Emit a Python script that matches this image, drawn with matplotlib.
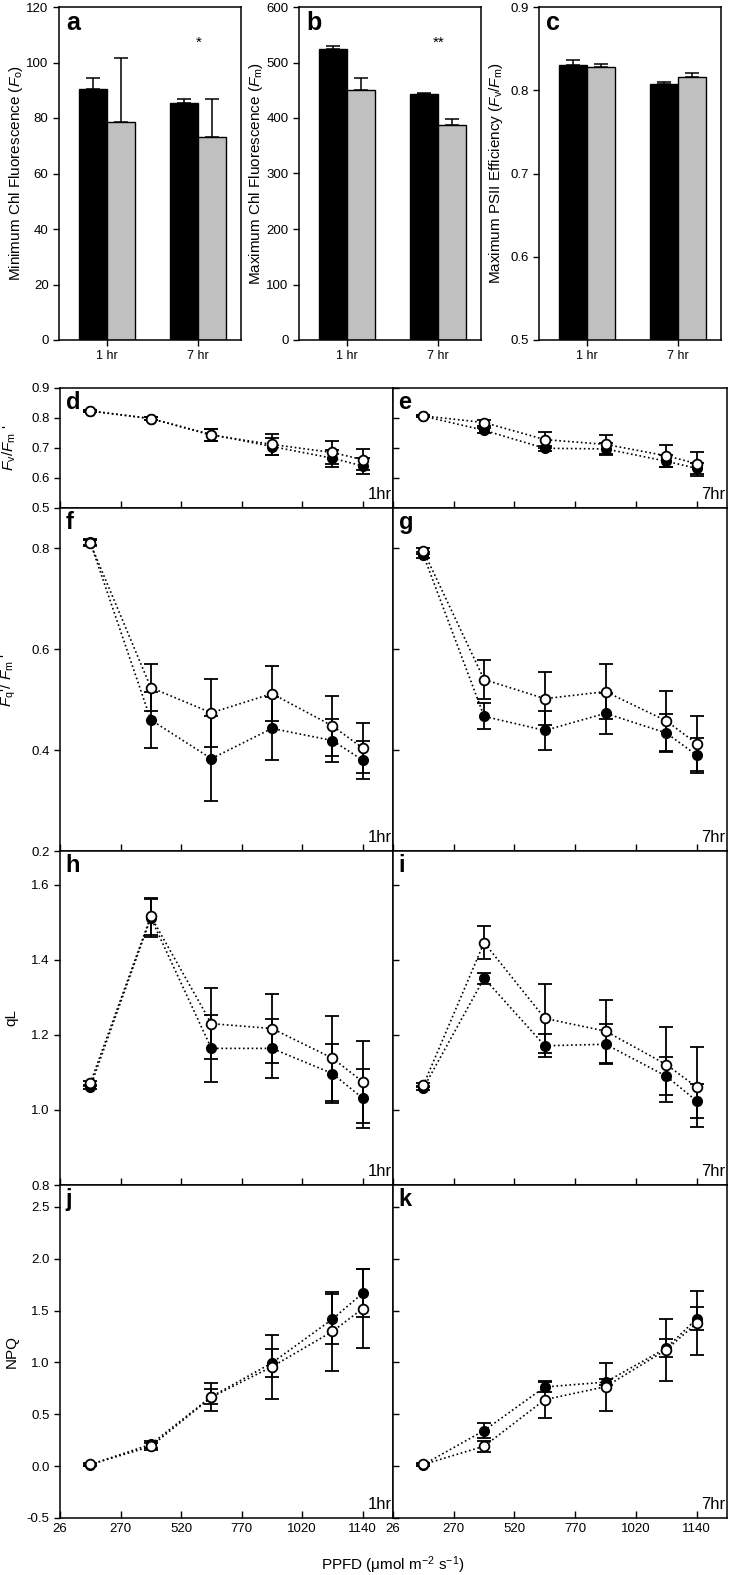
import matplotlib
matplotlib.use("Agg")
import matplotlib.pyplot as plt
import numpy as np

plt.rcParams['font.family'] = ['Liberation Sans', 'DejaVu Sans']
plt.rcParams['mathtext.fontset'] = 'custom'
plt.rcParams['mathtext.rm'] = 'Liberation Sans'
plt.rcParams['mathtext.it'] = 'Liberation Sans:italic'
plt.rcParams['font.size'] = 9
plt.rcParams['axes.linewidth'] = 1.1

# ---- bar panels (a, b, c) ----
temps = ['1 hr', '7 hr']
fo_black = [90.5, 85.5]
fo_black_err = [4.0, 1.2]
fo_gray = [78.5, 73.0]
fo_gray_err = [23.0, 14.0]
fm_black = [524, 443]
fm_black_err = [5, 2]
fm_gray = [450, 388]
fm_gray_err = [22, 10]
fvfm_black = [0.830, 0.807]
fvfm_black_err = [0.006, 0.003]
fvfm_gray = [0.828, 0.816]
fvfm_gray_err = [0.004, 0.005]

# ---- light response panels (d - k) ----
ppfd_labels = ['26', '270', '520', '770', '1020', '1140']
ppfd_pos = [0.5, 1.5, 2.5, 3.5, 4.5, 5.0]

d_filled = [0.823, 0.798, 0.745, 0.705, 0.666, 0.640]
d_filled_err = [0.004, 0.004, 0.02, 0.03, 0.028, 0.028]
d_open = [0.824, 0.798, 0.743, 0.712, 0.685, 0.661]
d_open_err = [0.004, 0.004, 0.02, 0.036, 0.038, 0.036]

e_filled = [0.806, 0.759, 0.699, 0.697, 0.656, 0.632]
e_filled_err = [0.004, 0.008, 0.008, 0.02, 0.02, 0.018]
e_open = [0.807, 0.785, 0.728, 0.712, 0.674, 0.648]
e_open_err = [0.004, 0.01, 0.027, 0.031, 0.036, 0.04]

f_filled = [0.812, 0.460, 0.383, 0.443, 0.419, 0.380]
f_filled_err = [0.006, 0.056, 0.084, 0.063, 0.042, 0.038]
f_open = [0.810, 0.524, 0.474, 0.512, 0.448, 0.404]
f_open_err = [0.006, 0.047, 0.067, 0.055, 0.059, 0.05]

g_filled = [0.787, 0.467, 0.439, 0.473, 0.434, 0.390]
g_filled_err = [0.006, 0.026, 0.039, 0.041, 0.037, 0.035]
g_open = [0.795, 0.540, 0.502, 0.516, 0.458, 0.413]
g_open_err = [0.006, 0.038, 0.053, 0.055, 0.06, 0.055]

h_filled = [1.061, 1.512, 1.164, 1.164, 1.097, 1.031]
h_filled_err = [0.005, 0.05, 0.089, 0.078, 0.079, 0.078]
h_open = [1.071, 1.516, 1.230, 1.217, 1.138, 1.075]
h_open_err = [0.006, 0.05, 0.094, 0.091, 0.113, 0.109]

i_filled = [1.058, 1.351, 1.171, 1.175, 1.090, 1.024]
i_filled_err = [0.005, 0.015, 0.031, 0.053, 0.05, 0.046]
i_open = [1.066, 1.446, 1.244, 1.210, 1.121, 1.061]
i_open_err = [0.006, 0.044, 0.091, 0.084, 0.101, 0.107]

j_filled = [0.015, 0.21, 0.67, 0.995, 1.417, 1.667]
j_filled_err = [0.01, 0.035, 0.07, 0.135, 0.24, 0.234]
j_open = [0.016, 0.19, 0.665, 0.958, 1.298, 1.519]
j_open_err = [0.01, 0.03, 0.135, 0.31, 0.38, 0.38]

k_filled = [0.015, 0.343, 0.763, 0.81, 1.138, 1.42]
k_filled_err = [0.01, 0.074, 0.05, 0.03, 0.09, 0.11]
k_open = [0.016, 0.192, 0.641, 0.766, 1.122, 1.378]
k_open_err = [0.01, 0.054, 0.176, 0.23, 0.3, 0.31]

W, H = 729, 1575
fig = plt.figure(figsize=(W / 100, H / 100), dpi=100)


def px_axes(x0, y0, x1, y1):
    """axes from pixel box (top-left origin)"""
    return fig.add_axes([x0 / W, 1 - y1 / H, (x1 - x0) / W, (y1 - y0) / H])


def bar_panel(ax, black, black_err, gray, gray_err, ylim, yticks, ylabel, letter, star=None):
    x = np.arange(len(temps))
    w = 0.31
    ax.bar(x - w / 2, black, w, color='black', edgecolor='black', linewidth=1,
           yerr=[np.zeros(len(black)), black_err], capsize=5,
           error_kw=dict(elinewidth=1.1, capthick=1.1, ecolor='black'))
    ax.bar(x + w / 2, gray, w, color='#c0c0c0', edgecolor='black', linewidth=1,
           yerr=[np.zeros(len(gray)), gray_err], capsize=5,
           error_kw=dict(elinewidth=1.1, capthick=1.1, ecolor='black'))
    ax.set_xlim(-0.53, 1.47)
    ax.set_ylim(*ylim)
    ax.set_yticks(yticks)
    ax.set_xticks(x)
    ax.set_xticklabels(temps, fontsize=9)
    ax.tick_params(direction='out', length=4, width=1)
    ax.tick_params(axis='y', labelsize=9.5)
    ax.set_ylabel(ylabel, fontsize=11)
    ax.yaxis.set_label_coords(-0.185, 0.5)
    ax.annotate(letter, xy=(0, 1), xycoords='axes fraction', xytext=(5, -3),
                textcoords='offset points', ha='left', va='top',
                fontsize=18, fontweight='bold')
    if star is not None:
        ax.text(1, star[1], star[0], ha='center', va='center', fontsize=11)


ax_a = px_axes(59, 7, 241, 340)
bar_panel(ax_a, fo_black, fo_black_err, fo_gray, fo_gray_err, (0, 120),
          np.arange(0, 121, 20), r'Minimum Chl Fluorescence ($F_\mathrm{o}$)', 'a',
          star=('*', 107))
ax_b = px_axes(299, 7, 481, 340)
bar_panel(ax_b, fm_black, fm_black_err, fm_gray, fm_gray_err, (0, 600),
          np.arange(0, 601, 100), r'Maximum Chl Fluorescence ($F_\mathrm{m}$)', 'b',
          star=('**', 535))
ax_c = px_axes(539, 7, 721, 340)
bar_panel(ax_c, fvfm_black, fvfm_black_err, fvfm_gray, fvfm_gray_err, (0.5, 0.9),
          [0.5, 0.6, 0.7, 0.8, 0.9],
          r'Maximum PSII Efficiency ($F_\mathrm{v}$/$F_\mathrm{m}$)', 'c')
ax_c.set_yticklabels(['0.5', '0.6', '0.7', '0.8', '0.9'])

dots = (0, (1, 1.6))


def line_panel(ax, filled, filled_err, opn, opn_err, ylim, yticks, letter, time,
               left=True, bottom=False, ylabel=None):
    ax.errorbar(ppfd_pos, filled, yerr=filled_err, fmt='o', color='black',
                ms=7, mfc='black', mec='black', linestyle=dots, linewidth=1.2,
                elinewidth=1.3, capsize=5, capthick=1.3, zorder=3)
    ax.errorbar(ppfd_pos, opn, yerr=opn_err, fmt='o', color='black',
                ms=7, mfc='white', mec='black', mew=1.3, linestyle=dots,
                linewidth=1.2, elinewidth=1.3, capsize=5, capthick=1.3, zorder=4)
    ax.set_xlim(0, 5.5)
    ax.set_ylim(*ylim)
    ax.set_yticks(yticks)
    ax.set_xticks(range(len(ppfd_labels)))
    ax.tick_params(axis='x', direction='in', length=5, width=1)
    if left:
        ax.tick_params(axis='y', direction='out', length=4, width=1, labelsize=9.5)
        ax.set_yticklabels([f'{t:.1f}' for t in yticks])
        if ylabel:
            ax.set_ylabel(ylabel, fontsize=11)
            ax.yaxis.set_label_coords(-0.125, 0.5)
    else:
        ax.tick_params(axis='y', direction='in', length=4, width=1, labelleft=False)
    if bottom:
        ax.set_xticklabels(ppfd_labels, fontsize=9.5)
    else:
        ax.set_xticklabels([])
    ax.annotate(letter, xy=(0, 1), xycoords='axes fraction', xytext=(4, -2),
                textcoords='offset points', ha='left', va='top',
                fontsize=17, fontweight='bold')
    ax.annotate(time, xy=(1, 0), xycoords='axes fraction', xytext=(-1, 4),
                textcoords='offset points', ha='right', va='bottom', fontsize=12)


rows = [(388, 508), (508, 851), (851, 1185), (1185, 1518)]
cols = [(60, 393), (393, 727)]

panels = [
    (d_filled, d_filled_err, d_open, d_open_err, e_filled, e_filled_err, e_open, e_open_err,
     (0.5, 0.9), [0.5, 0.6, 0.7, 0.8, 0.9], 'd', 'e', r"$F_\mathrm{v}$/$F_\mathrm{m}$ '"),
    (f_filled, f_filled_err, f_open, f_open_err, g_filled, g_filled_err, g_open, g_open_err,
     (0.2, 0.88), [0.2, 0.4, 0.6, 0.8], 'f', 'g', r"$F_\mathrm{q}$'/ $F_\mathrm{m}$ '"),
    (h_filled, h_filled_err, h_open, h_open_err, i_filled, i_filled_err, i_open, i_open_err,
     (0.8, 1.69), [0.8, 1.0, 1.2, 1.4, 1.6], 'h', 'i', 'qL'),
    (j_filled, j_filled_err, j_open, j_open_err, k_filled, k_filled_err, k_open, k_open_err,
     (-0.5, 2.71), [-0.5, 0.0, 0.5, 1.0, 1.5, 2.0, 2.5], 'j', 'k', 'NPQ'),
]

for r, p in enumerate(panels):
    y0, y1 = rows[r]
    is_bottom = r == len(rows) - 1
    axl = px_axes(cols[0][0], y0, cols[0][1], y1)
    line_panel(axl, p[0], p[1], p[2], p[3], p[8], p[9], p[10], '1hr',
               left=True, bottom=is_bottom, ylabel=p[12])
    axr = px_axes(cols[1][0], y0, cols[1][1], y1)
    line_panel(axr, p[4], p[5], p[6], p[7], p[8], p[9], p[11], '7hr',
               left=False, bottom=is_bottom)

fig.text(393 / W, 1 - 1565 / H, r'PPFD (μmol m$^{-2}$ s$^{-1}$)', ha='center',
         va='center', fontsize=11)

fig.savefig('out.png', dpi=100)
